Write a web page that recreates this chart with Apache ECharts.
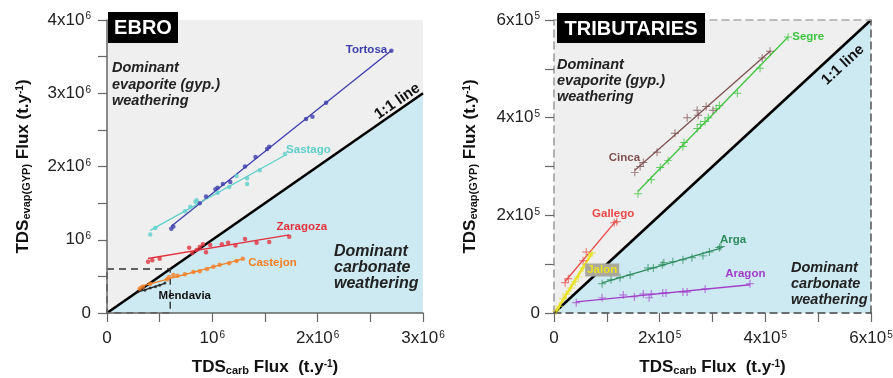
<!DOCTYPE html>
<html>
<head>
<meta charset="utf-8">
<script src="https://cdn.jsdelivr.net/npm/echarts@6.0.0/dist/echarts.min.js"></script>
<style>
  html, body { margin: 0; padding: 0; background: #fff; }
  #chart { width: 893px; height: 378px; }
</style>
</head>
<body>
<div id="chart"></div>
<script>
// Ebro main-channel stations: [TDS_carb, TDS_evap(GYP)] in millions of t/y
const tortosa = [[0.61,1.15],[0.63,1.18],[0.88,1.50],[0.94,1.59],[1.03,1.69],[1.05,1.71],[1.10,1.76],[1.17,1.79],[1.31,2.00],[1.41,2.13],[1.52,2.24],[1.54,2.27],[1.89,2.65],[1.95,2.68],[2.08,2.87],[2.70,3.58]];
const sastago = [[0.41,1.07],[0.46,1.16],[0.74,1.39],[0.79,1.45],[0.84,1.52],[0.85,1.54],[1.05,1.64],[1.16,1.72],[1.23,1.87],[1.33,1.84],[1.33,1.76],[1.45,1.95],[1.69,2.17]];
const zaragoza = [[0.39,0.70],[0.43,0.72],[0.50,0.74],[0.78,0.89],[0.81,0.82],[0.85,0.86],[0.88,0.90],[0.91,0.94],[0.94,0.83],[0.98,0.93],[1.09,0.94],[1.15,0.96],[1.22,0.92],[1.31,1.01],[1.42,0.96],[1.54,0.97],[1.73,1.04]];
const castejon = [[0.31,0.33],[0.34,0.36],[0.41,0.40],[0.57,0.46],[0.59,0.49],[0.63,0.52],[0.67,0.51],[0.74,0.53],[0.82,0.56],[0.88,0.57],[0.95,0.60],[1.01,0.63],[1.07,0.66],[1.16,0.68],[1.23,0.71],[1.29,0.74]];
const mendavia = [[0.29,0.29],[0.36,0.31],[0.41,0.34],[0.46,0.36],[0.50,0.38],[0.55,0.41]];

// Tributaries: [TDS_carb, TDS_evap(GYP)] in units of 1e5 t/y
const segre = [[1.59,2.44],[1.84,2.73],[2.01,2.98],[2.16,3.12],[2.44,3.41],[2.46,3.49],[2.71,3.78],[2.77,3.86],[2.86,3.92],[2.92,4.00],[3.07,4.19],[3.13,4.25],[3.47,4.50],[3.90,5.01],[4.43,5.65]];
const cinca = [[1.53,2.88],[1.63,3.00],[1.69,3.08],[1.95,3.29],[2.29,3.68],[2.52,4.00],[2.71,4.15],[2.73,4.05],[2.88,4.23],[3.01,4.15],[3.94,5.22],[4.09,5.36]];
const gallego = [[0.21,0.62],[0.27,0.70],[0.55,1.07],[0.61,1.25],[1.14,1.85],[1.19,1.87]];
const jalon = [[0.04,0.04],[0.10,0.14],[0.17,0.29],[0.23,0.39],[0.32,0.51],[0.40,0.64],[0.46,0.74],[0.55,0.92],[0.66,1.17],[0.72,1.23]];
const arga = [[0.91,0.60],[1.08,0.68],[1.25,0.72],[1.44,0.78],[1.78,0.92],[1.88,0.92],[2.05,0.99],[2.08,1.03],[2.25,1.05],[2.44,1.09],[2.61,1.13],[2.82,1.17],[2.94,1.25],[3.13,1.34],[3.16,1.36]];
const aragon = [[0.42,0.21],[0.91,0.31],[1.31,0.37],[1.52,0.33],[1.69,0.39],[1.80,0.31],[1.84,0.39],[2.06,0.41],[2.12,0.41],[2.44,0.43],[2.52,0.43],[2.86,0.49],[3.71,0.60]];

// Axis ranges
const ebroMax = { x: 3e6, y: 4e6 };
const tribMax = { x: 6e5, y: 6e5 };
// Tributary range outlined on the Ebro panel (t/y)
const tribBox = [[0, 6e5], [6e5, 6e5], [6e5, 0], [0, 0], [0, 6e5]];

const FONT = '"Liberation Sans", Arial, Helvetica, sans-serif';
const GRAY_BG = '#efefef';
const BLUE_BG = '#cdeaf2';

const scale = (pts, k) => pts.map(([x, y]) => [x * k, y * k]);

// Least-squares trend line over the station's x range
function trend(pts) {
  const n = pts.length;
  let sx = 0, sy = 0, sxx = 0, sxy = 0;
  pts.forEach(([x, y]) => { sx += x; sy += y; sxx += x * x; sxy += x * y; });
  const b = (n * sxy - sx * sy) / (n * sxx - sx * sx);
  const a = (sy - b * sx) / n;
  const xs = pts.map(p => p[0]);
  const x0 = Math.min(...xs), x1 = Math.max(...xs);
  return [[x0, a + b * x0], [x1, a + b * x1]];
}

const PLUS = 'path://M4.4,0H5.6V4.4H10V5.6H5.6V10H4.4V5.6H0V4.4H4.4Z';

const stations = [
  { name: 'Tortosa',  pts: scale(tortosa, 1e6),  color: '#3d3dab', g: 0, sym: 'circle', size: 4.5, lw: 1.3 },
  { name: 'Sastago',  pts: scale(sastago, 1e6),  color: '#5fd0c9', g: 0, sym: 'circle', size: 4.5, lw: 1.3 },
  { name: 'Zaragoza', pts: scale(zaragoza, 1e6), color: '#e2323e', g: 0, sym: 'circle', size: 4.5, lw: 1.3 },
  { name: 'Castejon', pts: scale(castejon, 1e6), color: '#f27f24', g: 0, sym: 'circle', size: 4.5, lw: 1.3 },
  { name: 'Mendavia', pts: scale(mendavia, 1e6), color: '#222222', g: 0, sym: 'circle', size: 3, lw: 1.3 },
  { name: 'Segre',    pts: scale(segre, 1e5),    color: '#3fc43f', g: 1, sym: PLUS, size: 8, lw: 1.3 },
  { name: 'Cinca',    pts: scale(cinca, 1e5),    color: '#7f5252', g: 1, sym: PLUS, size: 8, lw: 1.3 },
  { name: 'Gallego',  pts: scale(gallego, 1e5),  color: '#e94848', g: 1, sym: PLUS, size: 8, lw: 1.3 },
  { name: 'Jalon',    pts: scale(jalon, 1e5),    color: '#e8e126', g: 1, sym: PLUS, size: 8, lw: 2.4 },
  { name: 'Arga',     pts: scale(arga, 1e5),     color: '#2d8b5d', g: 1, sym: PLUS, size: 8, lw: 1.3 },
  { name: 'Aragon',   pts: scale(aragon, 1e5),   color: '#a23fc9', g: 1, sym: PLUS, size: 8, lw: 1.3 }
];

// Station name tags, anchored in data coordinates
const tags = [
  { name: 'Tortosa',  g: 0, at: [2.66e6, 3.59e6], align: 'right' },
  { name: 'Sastago',  g: 0, at: [1.70e6, 2.23e6], align: 'left' },
  { name: 'Zaragoza', g: 0, at: [1.61e6, 1.175e6], align: 'left' },
  { name: 'Castejon', g: 0, at: [1.34e6, 0.68e6], align: 'left' },
  { name: 'Mendavia', g: 0, at: [0.49e6, 0.23e6], align: 'left', color: '#111' },
  { name: 'Segre',    g: 1, at: [4.51e5, 5.65e5], align: 'left' },
  { name: 'Cinca',    g: 1, at: [1.63e5, 3.18e5], align: 'right' },
  { name: 'Gallego',  g: 1, at: [0.72e5, 2.03e5], align: 'left' },
  { name: 'Jalon',    g: 1, at: [0.59e5, 0.88e5], align: 'left', box: '#aaa99b' },
  { name: 'Arga',     g: 1, at: [3.14e5, 1.50e5], align: 'left' },
  { name: 'Aragon',   g: 1, at: [3.24e5, 0.80e5], align: 'left' }
];

function sciLabel(v, unit, exp, step) {
  if (v === 0) return '{n|0}';
  if (Math.abs(v / step - Math.round(v / step)) > 1e-6) return '';
  const m = Math.round(v / unit);
  return (m === 1 ? '{n|10}' : '{n|' + m + 'x10}') + '{e|' + exp + '}';
}

const tickRich = {
  n: { fontSize: 17, fontFamily: FONT, color: '#222' },
  e: { fontSize: 10, fontFamily: FONT, color: '#222', verticalAlign: 'top', padding: [0, 0, 0, 1] }
};
const nameRich = {
  a: { fontSize: 17, fontWeight: 'bold', fontFamily: FONT, color: '#111' },
  s: { fontSize: 11, fontWeight: 'bold', fontFamily: FONT, color: '#111', verticalAlign: 'bottom' },
  p: { fontSize: 10, fontWeight: 'bold', fontFamily: FONT, color: '#111', verticalAlign: 'top' }
};
const yName = '{a|TDS}{s|evap(GYP)}{a| Flux (t.y}{p|-1}{a|)}';
const xName = '{a|TDS}{s|carb}{a| Flux  (t.y}{p|-1}{a|)}';

function valueAxis(opts) {
  return Object.assign({
    type: 'value', min: 0, z: 3,
    splitLine: { show: false },
    axisLine: { onZero: false, lineStyle: { color: '#666', width: 1.5 } },
    axisTick: { length: 9, lineStyle: { color: '#666', width: 1.2 } },
    nameLocation: 'middle',
    nameTextStyle: { rich: nameRich }
  }, opts);
}

const xAxes = [
  valueAxis({ gridIndex: 0, max: ebroMax.x, interval: 5e5, name: xName, nameGap: 46,
    axisLabel: { margin: 17, formatter: v => sciLabel(v, 1e6, 6, 1e6), rich: tickRich } }),
  valueAxis({ gridIndex: 1, max: tribMax.x, interval: 1e5, name: xName, nameGap: 46,
    axisLine: { onZero: false, lineStyle: { color: '#444', width: 1.5, type: [7, 5] } },
    axisLabel: { margin: 17, formatter: v => sciLabel(v, 1e5, 5, 2e5), rich: tickRich } }),
  valueAxis({ gridIndex: 1, max: tribMax.x, position: 'top',
    axisLine: { onZero: false, lineStyle: { color: '#aaa', width: 1.5, type: [7, 5] } },
    axisTick: { show: false }, axisLabel: { show: false } })
];
const yAxes = [
  valueAxis({ gridIndex: 0, max: ebroMax.y, interval: 5e5, name: yName, nameGap: 75,
    axisLabel: { margin: 16, formatter: v => sciLabel(v, 1e6, 6, 1e6), rich: tickRich } }),
  valueAxis({ gridIndex: 1, max: tribMax.y, interval: 1e5, name: yName, nameGap: 75,
    axisLine: { onZero: false, lineStyle: { color: '#999', width: 1.5, type: [7, 5] } },
    axisLabel: { margin: 14, formatter: v => sciLabel(v, 1e5, 5, 2e5), rich: tickRich } }),
  valueAxis({ gridIndex: 1, max: tribMax.y, position: 'right',
    axisLine: { onZero: false, lineStyle: { color: '#555', width: 1.5, type: [7, 5] } },
    axisTick: { show: false }, axisLabel: { show: false } })
];

const series = [
  // 1:1 line with the carbonate-dominated field beneath it
  { type: 'line', xAxisIndex: 0, yAxisIndex: 0, data: [[0, 0], [ebroMax.x, ebroMax.x]],
    symbol: 'none', z: 1, silent: true,
    lineStyle: { color: '#000', width: 2.6 }, areaStyle: { color: BLUE_BG, opacity: 1 } },
  { type: 'line', xAxisIndex: 1, yAxisIndex: 1, data: [[0, 0], [tribMax.x, tribMax.x]],
    symbol: 'none', z: 1, silent: true,
    lineStyle: { color: '#000', width: 2.6 }, areaStyle: { color: BLUE_BG, opacity: 1 } },
  // tributary range outline
  { type: 'line', xAxisIndex: 0, yAxisIndex: 0, data: tribBox, symbol: 'none', z: 2, silent: true,
    lineStyle: { color: '#333', width: 1.4, type: [7, 5] } }
];
stations.forEach(s => {
  series.push({ type: 'line', name: s.name, xAxisIndex: s.g, yAxisIndex: s.g, data: trend(s.pts),
    symbol: 'none', z: 4, silent: true, lineStyle: { color: s.color, width: s.lw } });
  series.push({ type: 'scatter', name: s.name, xAxisIndex: s.g, yAxisIndex: s.g, data: s.pts,
    symbol: s.sym, symbolSize: s.size, z: 5, itemStyle: { color: s.color } });
});

const chart = echarts.init(document.getElementById('chart'), null, { renderer: 'canvas' });
chart.setOption({
  animation: false,
  grid: [
    { left: 107, top: 20, width: 316, height: 293, show: true, backgroundColor: GRAY_BG, borderWidth: 0,
      containLabel: false, outerBoundsMode: 'none' },
    { left: 554, top: 20, width: 317, height: 293, show: true, backgroundColor: GRAY_BG, borderWidth: 0,
      containLabel: false, outerBoundsMode: 'none' }
  ],
  xAxis: xAxes,
  yAxis: yAxes,
  series: series
});

const toPx = (g, p) => chart.convertToPixel({ xAxisIndex: g, yAxisIndex: g }, p);
const colorOf = name => stations.find(s => s.name === name).color;

const graphics = [];

// Panel titles
function panelTitle(text, x, y, w, h) {
  graphics.push({ type: 'rect', shape: { x, y, width: w, height: h }, style: { fill: '#000' }, z: 20 });
  graphics.push({ type: 'text', x: x + w / 2, y: y + h / 2 + 1, z: 21,
    style: { text, fill: '#fff', fontSize: 20, fontWeight: 'bold', fontFamily: FONT, align: 'center', verticalAlign: 'middle' } });
}
panelTitle('EBRO', 108, 12, 70, 31);
panelTitle('TRIBUTARIES', 557, 13, 148, 30);

// Field annotations
function note(text, x, y, size, lh) {
  graphics.push({ type: 'text', x, y, z: 20,
    style: { text, fill: '#222', fontSize: size, fontWeight: 'bold', fontStyle: 'italic', fontFamily: FONT,
      lineHeight: lh, align: 'left', verticalAlign: 'top' } });
}
note('Dominant\nevaporite (gyp.)\nweathering', 112, 60, 14.5, 16.5);
note('Dominant\nevaporite (gyp.)\nweathering', 557, 57, 14.5, 16);
note('Dominant\ncarbonate\nweathering', 334, 244, 16, 16);
note('Dominant\ncarbonate\nweathering', 791, 260, 14.5, 16);

// "1:1 line" tags laid along the diagonal
function oneToOne(g, t, off) {
  const p0 = toPx(g, [0, 0]);
  const p1 = toPx(g, [t, t]);
  const ang = Math.atan2(p0[1] - p1[1], p1[0] - p0[0]);
  const nx = -Math.sin(ang), ny = -Math.cos(ang);
  graphics.push({ type: 'text', x: p1[0] + nx * off, y: p1[1] + ny * off, rotation: ang, z: 20,
    style: { text: '1:1 line', fill: '#111', fontSize: 15, fontWeight: 'bold', fontFamily: FONT,
      align: 'center', verticalAlign: 'middle' } });
}
oneToOne(0, 2.8e6, 8);
oneToOne(1, 5.29e5, -14);

// Station names
tags.forEach(t => {
  const p = toPx(t.g, t.at);
  const style = { text: t.name, fill: t.color || colorOf(t.name), fontSize: 11.5, fontWeight: 'bold',
    fontFamily: FONT, align: t.align, verticalAlign: 'middle' };
  if (t.box) { style.backgroundColor = t.box; style.padding = [1, 2, 0, 2]; }
  graphics.push({ type: 'text', x: p[0], y: p[1], z: 22, style });
});

chart.setOption({ graphic: graphics });
</script>
</body>
</html>
